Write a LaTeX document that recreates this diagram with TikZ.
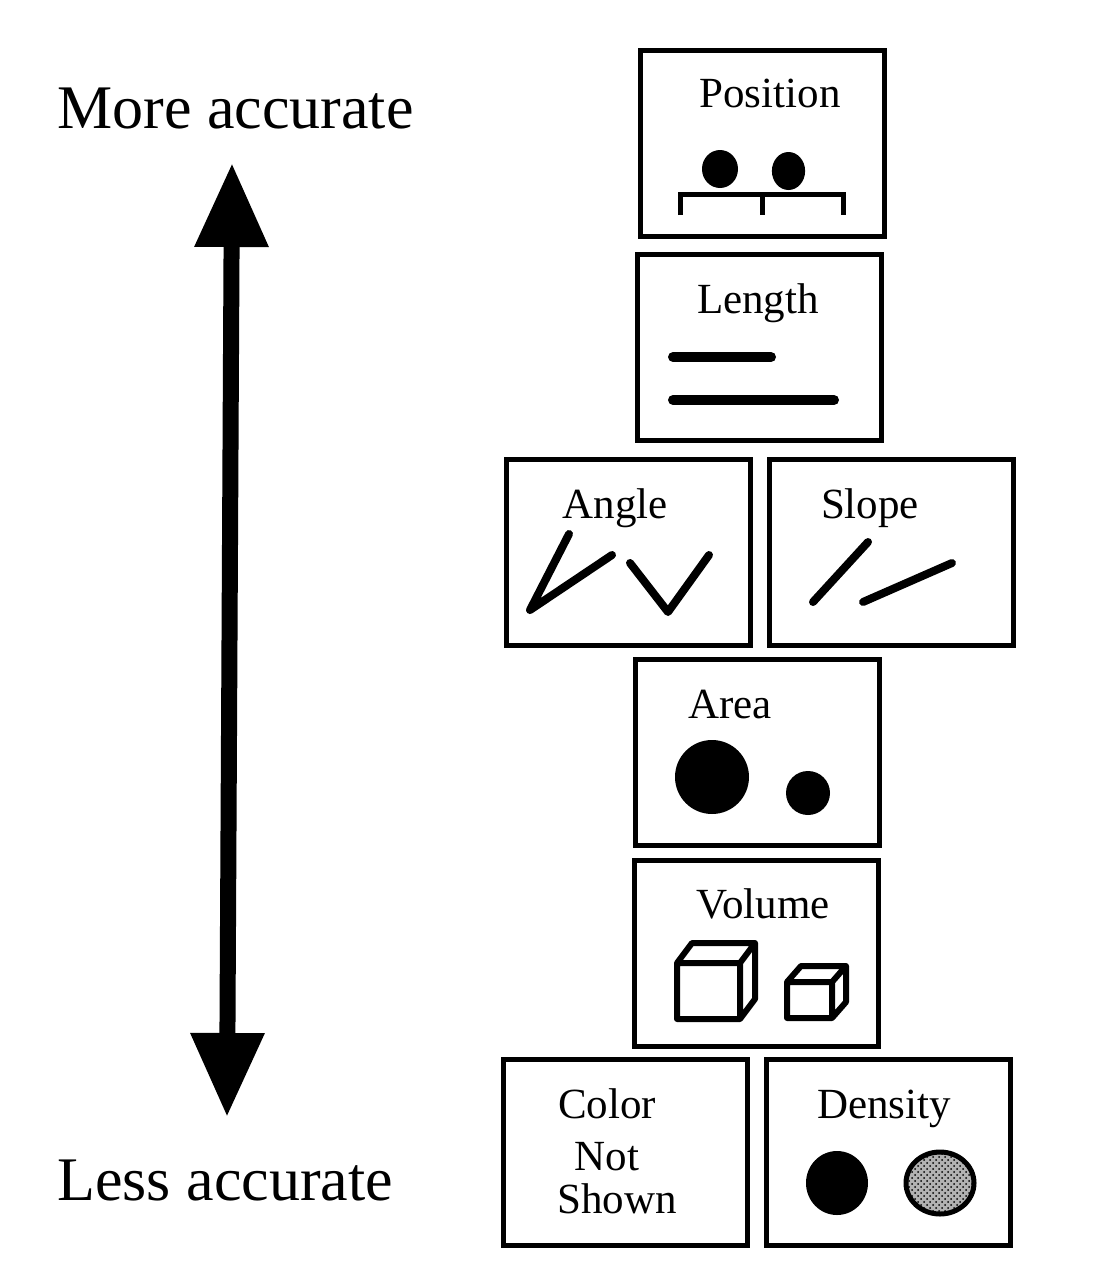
\documentclass[tikz,border=0pt]{standalone}
\usepackage{fontspec}
\setmainfont{Liberation Serif}
\usetikzlibrary{arrows.meta,patterns,positioning}

\tikzset{
  panel/.style={draw, line width=2.5pt, minimum width=122pt, minimum height=93pt, inner sep=0pt, outer sep=0pt},
  lbl/.style={anchor=base, inner sep=0pt, font=\fontsize{21.5}{26}\selectfont},
  side/.style={anchor=base west, inner sep=0pt, font=\fontsize{31}{38}\selectfont},
  glyph/.style={line width=4pt, line cap=round, line join=round},
  bar/.style={line width=5pt, line cap=round},
  cubeline/.style={line width=3pt, line join=round},
  accarrow/.style={line width=8pt, {Triangle[length=42pt,width=35pt]}-{Triangle[length=42pt,width=35pt]}},
}

% cube: front top-left x, y, width, height, depth dx, dy
\newcommand{\volcube}[6]{%
  \draw[cubeline] (#1,#2) rectangle ++(#3,#4)
    (#1,#2) -- ++(#5,#6) -- ++(#3,0) -- ++(0,#4) -- ({#1+#3},{#2+#4})
    ({#1+#3},#2) -- ++(#5,#6);
}

\begin{document}
\begin{tikzpicture}[x=0.5pt, y=-0.5pt]
  \useasboundingbox (0,0) rectangle (1096,1274);

  % scale on the left
  \node[side] (more_lbl) at (57,128) {More accurate};
  \node[side] (less_lbl) at (57,1200) {Less accurate};
  \coordinate (acc_top) at (232,163);
  \coordinate (acc_bot) at (227,1117);
  \draw[accarrow] (acc_top) -- (acc_bot);

  % panels
  \node[panel] (pos_box) at (762,143.5) {};
  \node[panel] (len_box) at (759.5,347) {};
  \node[panel] (ang_box) at (628,552) {};
  \node[panel, right=9.5pt of ang_box] (slope_box) {};
  \node[panel] (area_box) at (757.5,752.5) {};
  \node[panel] (vol_box) at (756,953.5) {};
  \node[panel] (col_box) at (625,1152) {};
  \node[panel, right=9.5pt of col_box] (dens_box) {};

  % labels
  \node[lbl] (pos_lbl) at (770,107) {Position};
  \node[lbl] (len_lbl) at (758,313) {Length};
  \node[lbl] (ang_lbl) at (615,518) {Angle};
  \node[lbl] (slope_lbl) at (870,518) {Slope};
  \node[lbl] (area_lbl) at (730,718) {Area};
  \node[lbl] (vol_lbl) at (763,918) {Volume};
  \node[lbl] (dens_lbl) at (884,1118) {Density};
  \node[lbl] (col_lbl1) at (607,1118) {Color};
  \node[lbl] (col_lbl2) at (607,1170) {Not};
  \node[lbl] (col_lbl3) at (617,1213) {Shown};

  % position
  \fill (720,169) ellipse [x radius=9pt, y radius=9.5pt];
  \fill (788.5,171) ellipse [x radius=8.3pt, y radius=9.5pt];
  \draw[line width=2.5pt] (680,215) |- (843,194) -- (843,215) (762,194) -- (762,215);

  % length
  \draw[bar] (673,357) -- (771,357);
  \draw[bar] (673,400) -- (834,400);

  % angle and slope
  \draw[glyph] (569,534) -- (530,610) -- (612,555);
  \draw[glyph] (630,563) -- (668,612) -- (709,555);
  \draw[glyph] (813,602) -- (868,542);
  \draw[glyph] (863,602) -- (952,563);

  % area
  \fill (712,777) circle [radius=18.5pt];
  \fill (808,793) circle [radius=11pt];

  % volume
  \volcube{677}{963}{63}{56}{15}{-20}
  \volcube{787}{982}{45}{36}{14}{-16}

  % density
  \fill (837,1183) ellipse [x radius=15.5pt, y radius=16pt];
  \fill[black!30] (940,1183) ellipse [x radius=17pt, y radius=15.5pt];
  \draw[line width=2.5pt, pattern=crosshatch dots] (940,1183) ellipse [x radius=17pt, y radius=15.5pt];
\end{tikzpicture}
\end{document}
